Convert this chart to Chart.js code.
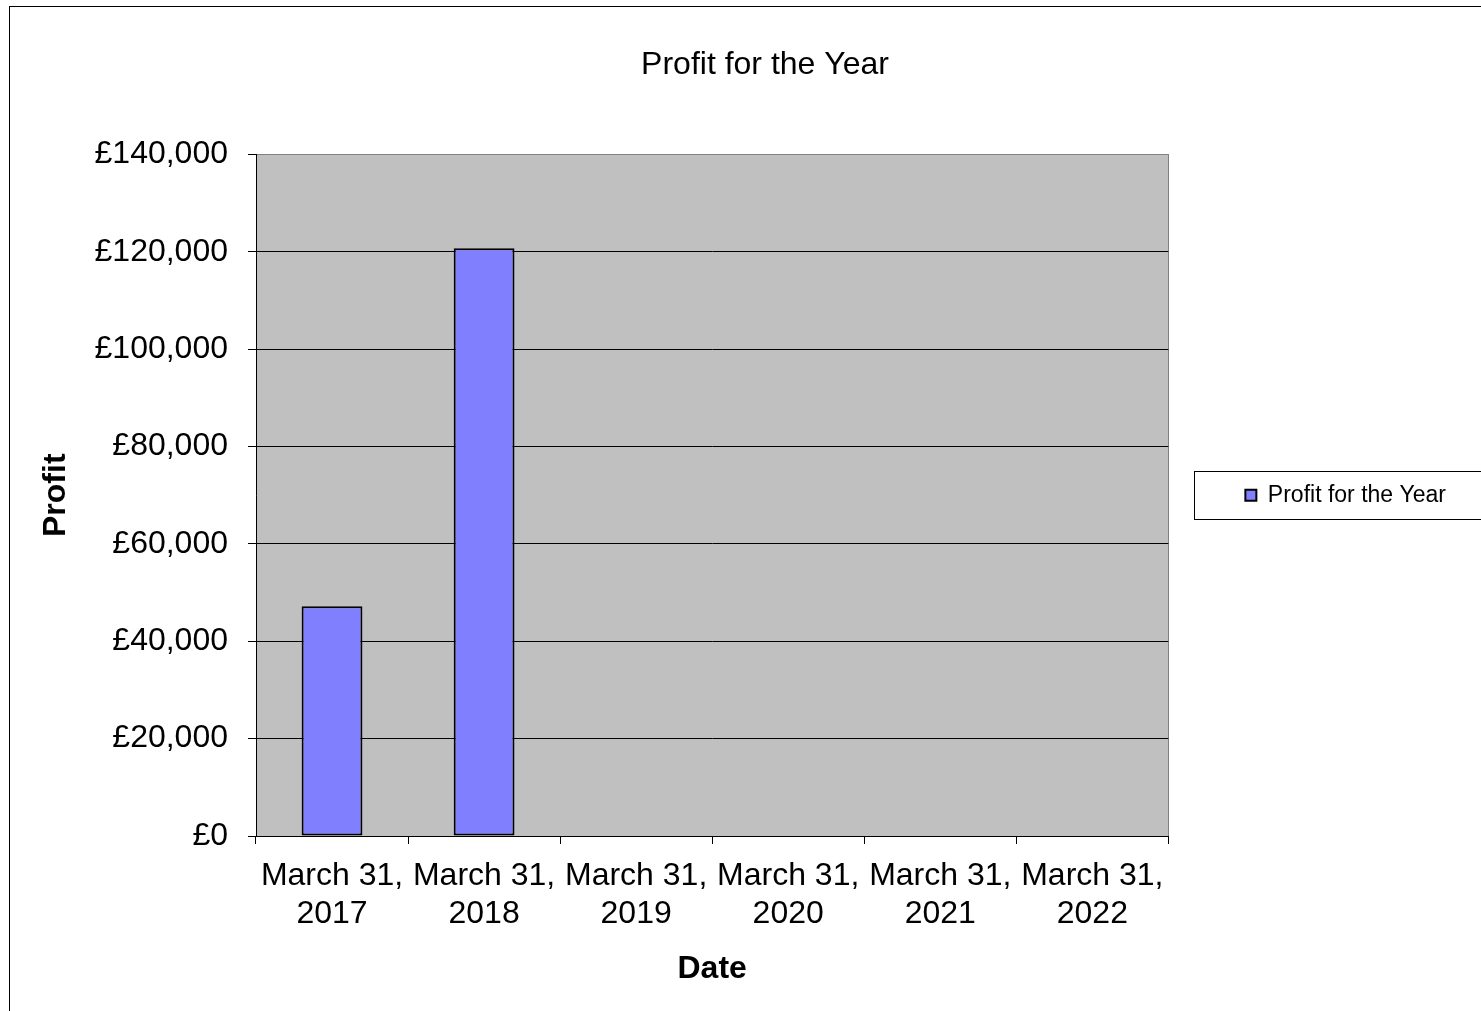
<!DOCTYPE html>
<html>
<head>
<meta charset="utf-8">
<title>Profit for the Year</title>
<script src="https://cdn.jsdelivr.net/npm/chart.js@4.4.0/dist/chart.umd.min.js"></script>
<style>
    html, body { margin: 0; padding: 0; background: #fff; overflow: hidden; }
    canvas { display: block; }
</style>
</head>
<body>
<canvas id="myChart" width="1530" height="1011"></canvas>
<script>
// Les données
const dates = [
    ['March 31,', '2017'],
    ['March 31,', '2018'],
    ['March 31,', '2019'],
    ['March 31,', '2020'],
    ['March 31,', '2021'],
    ['March 31,', '2022']
];
const profits = [47200, 120700, null, null, null, null];
const yMin = 0;
const yMax = 140000;
const yStep = 20000;

const titre = 'Profit for the Year';
const nomSerie = 'Profit for the Year';
const titreX = 'Date';
const titreY = 'Profit';

Chart.defaults.font.family = "'Liberation Sans', Arial, sans-serif";
Chart.defaults.color = '#000';

// Fond gris de la zone de tracé + cadre extérieur
const fondPlugin = {
    id: 'fond',
    beforeDraw(chart) {
        const c = chart.ctx;
        const a = chart.chartArea;
        c.save();
        c.strokeStyle = '#000';
        c.lineWidth = 1;
        c.strokeRect(9.5, 6.5, 3000, 3000);
        c.fillStyle = '#C0C0C0';
        c.fillRect(a.left, a.top, a.right - a.left, a.bottom - a.top);
        c.strokeStyle = '#808080';
        c.strokeRect(Math.round(a.left) + 0.5, Math.round(a.top) + 0.5, Math.round(a.right - a.left), Math.round(a.bottom - a.top));
        c.restore();
    }
};

// Cadre autour de la légende
const cadreLegende = {
    id: 'cadreLegende',
    afterDraw(chart) {
        const hb = chart.legend.legendHitBoxes[0];
        if (!hb) return;
        const c = chart.ctx;
        const cy = hb.top + hb.height / 2;
        c.save();
        c.strokeStyle = '#000';
        c.lineWidth = 1;
        c.strokeRect(Math.round(hb.left - 51) + 0.5, Math.round(cy - 24) + 0.5, 400, 48);
        c.restore();
    }
};

const ctx = document.getElementById('myChart').getContext('2d');

const myChart = new Chart(ctx, {
    type: 'bar',
    data: {
        labels: dates,
        datasets: [{
            label: nomSerie,
            data: profits,
            backgroundColor: '#8080FF',
            borderColor: '#000000',
            borderWidth: 2,
            borderSkipped: false,
            barPercentage: 0.4,
            categoryPercentage: 1.0
        }]
    },
    options: {
        responsive: false,
        animation: false,
        devicePixelRatio: 1,
        layout: {
            padding: { left: 74, right: 74, top: 0, bottom: 0 }
        },
        plugins: {
            title: {
                display: true,
                text: titre,
                color: '#000',
                font: { size: 32, weight: 'normal' },
                padding: { top: 46, bottom: 70 }
            },
            legend: {
                position: 'right',
                fullSize: false,
                labels: {
                    boxWidth: 11,
                    boxHeight: 11,
                    padding: 77,
                    color: '#000',
                    font: { size: 23 }
                }
            },
            tooltip: { enabled: false }
        },
        scales: {
            x: {
                grid: {
                    drawOnChartArea: false,
                    offset: true,
                    tickLength: 8,
                    tickColor: '#000'
                },
                border: { color: '#000', width: 1 },
                ticks: {
                    color: '#000',
                    font: { size: 32, lineHeight: 1.16 },
                    padding: 14,
                    maxRotation: 0,
                    autoSkip: false
                },
                title: {
                    display: true,
                    text: titreX,
                    color: '#000',
                    font: { size: 32, weight: 'bold' },
                    padding: { top: 0, bottom: 23 }
                },
                afterFit: (s) => { s.height = 175; }
            },
            y: {
                min: yMin,
                max: yMax,
                ticks: {
                    stepSize: yStep,
                    color: '#000',
                    font: { size: 32 },
                    padding: 20,
                    callback: (v) => '£' + v.toLocaleString('en-GB')
                },
                grid: {
                    color: (c) => (c.tick && c.tick.value === yMax) ? '#808080' : '#000',
                    tickLength: 8,
                    tickColor: '#000'
                },
                border: { color: '#000' },
                title: {
                    display: true,
                    text: titreY,
                    color: '#000',
                    font: { size: 32, weight: 'bold' },
                    padding: { top: -37, bottom: 0 }
                },
                afterFit: (s) => { s.width = 182; }
            }
        }
    },
    plugins: [fondPlugin, cadreLegende]
});
</script>
</body>
</html>
